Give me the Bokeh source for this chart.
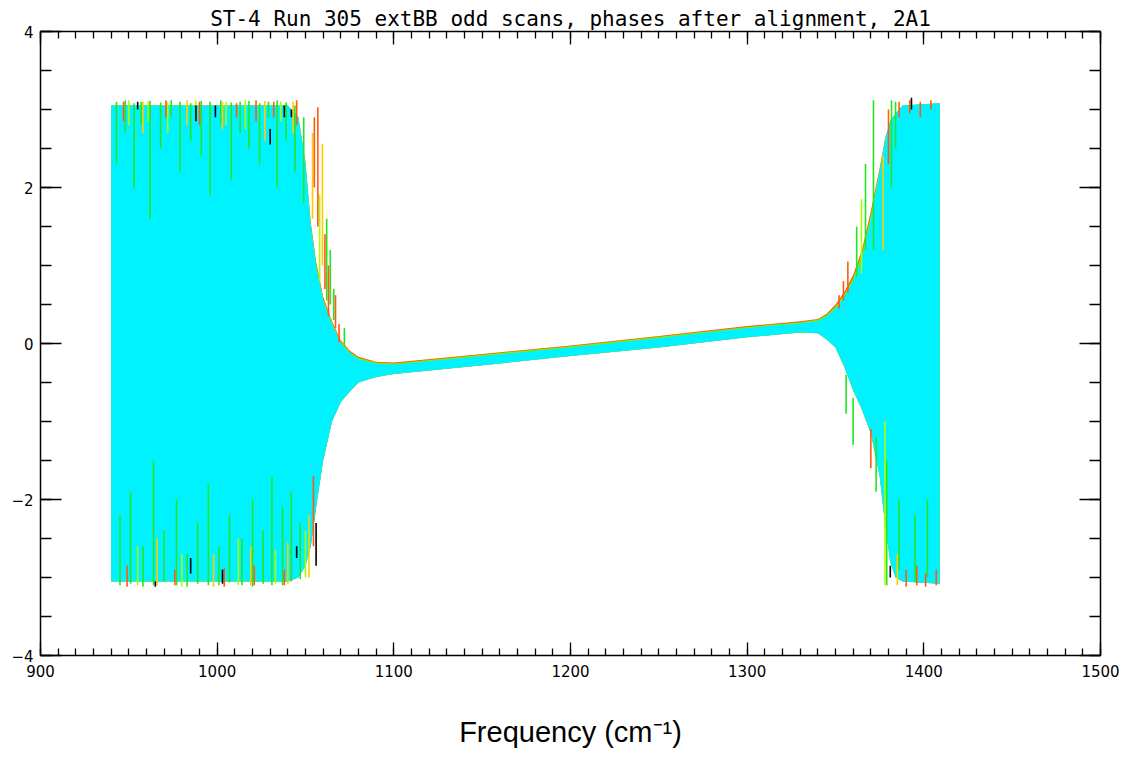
from bokeh.plotting import figure
from bokeh.models import LinearAxis, FixedTicker, Range1d, ColumnDataSource
from bokeh.embed import file_html
from bokeh.resources import INLINE

# ---------------- data ----------------
title_text = "ST-4 Run 305 extBB odd scans, phases after alignment, 2A1"
x_label = "Frequency (cm\u207b\u00b9)"
x_ticks = [900, 1000, 1100, 1200, 1300, 1400, 1500]
y_ticks = [-4, -2, 0, 2, 4]

# envelope of the scans (frequency nodes)
env_freq = [940, 1040, 1046, 1050, 1053, 1056, 1060, 1065, 1070, 1075, 1080, 1090,
            1100, 1150, 1200, 1250, 1300, 1330, 1340, 1345, 1350, 1355, 1360, 1365,
            1370, 1375, 1378, 1381, 1384, 1388, 1409]
cyan_upper = [3.05, 3.05, 2.9, 2.3, 1.5, 1.0, 0.55, 0.25, 0.0, -0.12, -0.2, -0.26,
              -0.27, -0.16, -0.05, 0.07, 0.2, 0.26, 0.29, 0.35, 0.45, 0.6, 0.8, 1.1,
              1.6, 2.2, 2.6, 2.85, 2.95, 3.05, 3.08]
cyan_lower = [-3.05, -3.05, -3.0, -2.85, -2.6, -2.1, -1.5, -1.0, -0.75, -0.62, -0.5, -0.43,
              -0.39, -0.28, -0.16, -0.05, 0.08, 0.14, 0.13, 0.05, -0.05, -0.3, -0.6, -0.85,
              -1.15, -1.7, -2.3, -2.8, -3.0, -3.05, -3.08]
orange_upper = [3.05, 3.05, 2.9, 2.32, 1.55, 1.05, 0.6, 0.29, 0.04, -0.09, -0.17, -0.235,
                -0.245, -0.135, -0.025, 0.095, 0.225, 0.285, 0.315, 0.38, 0.5, 0.66, 0.88, 1.2,
                1.7, 2.25, 2.62, 2.86, 2.95, 3.05, 3.08]
green_upper = [3.05, 3.05, 2.9, 2.31, 1.52, 1.02, 0.57, 0.27, 0.02, -0.105, -0.185, -0.245,
               -0.255, -0.145, -0.035, 0.085, 0.213, 0.273, 0.303, 0.365, 0.475, 0.63, 0.84, 1.15,
               1.65, 2.22, 2.61, 2.85, 2.95, 3.05, 3.08]

# individual excursions of the other scans (freq, low end, high end)
green_freq = [943, 948, 953, 957, 962, 968, 974, 979, 985, 991, 996, 1002, 1008, 1013,
              1018, 1024, 1029, 1034, 1039, 1044, 1049,
              945, 951, 958, 964, 970, 977, 983, 989, 995, 1001, 1007, 1014, 1020, 1026,
              1031, 1037, 1042, 1047, 1062, 1064, 1066, 1072,
              1371.5, 1381.7, 1384, 1379, 1386, 1395, 1402, 1360, 1356, 1362, 1367, 1373]
green_lo = [2.3, 2.7, 2.0, 2.8, 1.6, 2.5, 2.9, 2.2, 2.6, 2.4, 1.9, 2.8, 2.1, 2.7,
            2.5, 2.3, 2.9, 2.0, 2.6, 2.2, 1.8,
            -3.1, -3.08, -3.12, -3.1, -3.05, -3.1, -3.12, -3.08, -3.1, -3.1, -3.06, -3.1,
            -3.12, -3.08, -3.1, -3.1, -3.05, -3.02, 0.55, 0.5, 0.3, -0.02,
            1.2, 2.0, 2.5, -3.1, -2.9, -3.05, -3.0, -1.3, -0.9, 0.85, 1.2, -1.9]
green_hi = [3.1, 3.12, 3.08, 3.1, 3.11, 3.09, 3.12, 3.1, 3.08, 3.11, 3.1, 3.12, 3.09, 3.1,
            3.11, 3.08, 3.1, 3.12, 3.09, 3.05, 2.9,
            -2.2, -1.9, -2.6, -1.5, -2.4, -2.0, -2.7, -2.3, -1.8, -2.6, -2.2, -2.5, -2.0,
            -2.4, -1.7, -2.1, -1.9, -2.3, 1.6, 1.2, 0.7, 0.2,
            3.12, 3.12, 3.1, -1.5, -2.0, -2.2, -2.0, -0.7, -0.4, 1.5, 2.3, -1.2]

lime_freq = [950, 961, 972, 988, 1005, 1016, 1036, 955, 980, 1012, 1033, 1050, 1364.7, 1378, 1058]
lime_lo = [2.8, 2.85, 2.7, 2.9, 2.8, 2.75, 2.85, -3.1, -3.12, -3.1, -3.08, -3.0, 0.9, -3.1, 0.8]
lime_hi = [3.12, 3.11, 3.1, 3.12, 3.1, 3.12, 3.1, -2.6, -2.7, -2.5, -2.65, -2.4, 1.85, -1.0, 1.9]

yellow_freq = [958, 983, 1003, 1027, 1043, 1059.6, 966, 998, 1019, 1040, 1052, 1377, 1385, 1054]
yellow_lo = [2.7, 2.8, 2.75, 2.6, 2.7, 1.0, -3.1, -3.12, -3.1, -3.08, -3.0, 1.2, -3.1, 1.6]
yellow_hi = [3.1, 3.12, 3.1, 3.11, 3.1, 2.56, -2.5, -2.7, -2.6, -2.55, -2.2, 2.4, -2.7, 2.7]

orange_freq = [947, 971, 990, 1011, 1022, 1032, 1045, 1057, 1055, 1061, 1063, 1067, 1069,
               949, 976, 1004, 1021, 1038, 1054.5, 1370, 1354.5, 1352, 1357,
               1380, 1386, 1392, 1398, 1404, 1390, 1396, 1401, 1407]
orange_lo = [2.85, 2.9, 2.8, 2.9, 2.85, 2.9, 2.8, 1.5, 2.0, 0.7, 0.35, 0.2, 0.02,
             -3.12, -3.1, -3.12, -3.1, -3.1, -2.6, -1.6, 0.55, 0.45, 0.65,
             2.3, 2.9, 2.95, 2.9, 3.0, -3.12, -3.1, -3.12, -3.1]
orange_hi = [3.1, 3.12, 3.1, 3.08, 3.12, 3.1, 3.12, 3.03, 2.9, 1.4, 1.0, 0.62, 0.25,
             -2.85, -2.9, -2.88, -2.85, -2.9, -1.7, -1.1, 0.8, 0.62, 1.05,
             3.0, 3.1, 3.12, 3.1, 3.12, -2.9, -2.85, -2.95, -2.9]

black_freq = [955, 988, 999, 1030, 1038, 1042, 965, 985, 1003, 1045, 1056, 1393, 1381]
black_lo = [3.0, 2.85, 2.9, 2.55, 2.9, 2.9, -3.12, -2.95, -3.08, -2.75, -2.85, 3.0, -3.0]
black_hi = [3.1, 3.05, 3.05, 2.75, 3.05, 3.0, -3.05, -2.75, -2.9, -2.6, -2.3, 3.15, -2.85]

# ---------------- figure ----------------
p = figure(frame_width=1060, frame_height=624,
           x_range=Range1d(900, 1500), y_range=Range1d(-4, 4),
           output_backend="svg", toolbar_location=None,
           min_border_left=40, min_border_right=31, min_border_top=31, min_border_bottom=103,
           background_fill_color="white", border_fill_color="white")
p.grid.visible = False
p.outline_line_color = "black"
p.outline_line_width = 1.5

env = ColumnDataSource(dict(f=env_freq, cu=cyan_upper, cl=cyan_lower, ou=orange_upper, gu=green_upper))
p.varea(x="f", y1="cl", y2="ou", source=env, fill_color="#ff5a10")
p.varea(x="f", y1="cl", y2="gu", source=env, fill_color="#7ef000")
p.varea(x="f", y1="cl", y2="cu", source=env, fill_color="#00f2ff")

for fr, lo, hi, col in [(green_freq, green_lo, green_hi, "#22e622"),
                        (lime_freq, lime_lo, lime_hi, "#a8ff00"),
                        (yellow_freq, yellow_lo, yellow_hi, "#ffcc00"),
                        (orange_freq, orange_lo, orange_hi, "#ff5a10"),
                        (black_freq, black_lo, black_hi, "#000000")]:
    p.segment(x0=fr, y0=lo, x1=fr, y1=hi, line_color=col, line_width=1.6)

x_minor = list(range(900, 1501, 10))
y_minor = [v / 2 for v in range(-8, 9)]
xt = FixedTicker(ticks=x_ticks, minor_ticks=x_minor)
yt = FixedTicker(ticks=y_ticks, minor_ticks=y_minor)

def style(ax, major, minor, show_labels):
    ax.axis_line_color = None
    ax.major_tick_in = major
    ax.major_tick_out = 0
    ax.minor_tick_in = minor
    ax.minor_tick_out = 0
    ax.major_tick_line_color = "black"
    ax.minor_tick_line_color = "black"
    ax.major_tick_line_width = 1.3
    ax.minor_tick_line_width = 1.3
    if show_labels:
        ax.major_label_text_font = "DejaVu Sans"
        ax.major_label_text_font_size = "15px"
        ax.major_label_text_color = "black"
    else:
        ax.major_label_text_font_size = "0px"
        ax.major_label_text_color = None
        ax.major_label_standoff = 0

xb = p.xaxis[0]
xb.ticker = xt
style(xb, 13, 7, True)
xb.major_label_standoff = 9
xb.axis_label = x_label
xb.axis_label_text_font = "Liberation Sans"
xb.axis_label_text_font_size = "29px"
xb.axis_label_text_font_style = "normal"
xb.axis_label_text_color = "black"
xb.axis_label_standoff = 36

yl = p.yaxis[0]
yl.ticker = yt
style(yl, 21, 11, True)
yl.major_label_standoff = 7

xa = LinearAxis(ticker=xt)
style(xa, 13, 7, False)
p.add_layout(xa, "above")
yr = LinearAxis(ticker=yt)
style(yr, 21, 11, False)
p.add_layout(yr, "right")

p.title.text = title_text
p.title.align = "center"
p.title.text_font = "DejaVu Sans Mono"
p.title.text_font_size = "21px"
p.title.text_font_style = "normal"
p.title.text_color = "black"
p.title.standoff = 2

open("out.html", "w").write(file_html(p, INLINE))
